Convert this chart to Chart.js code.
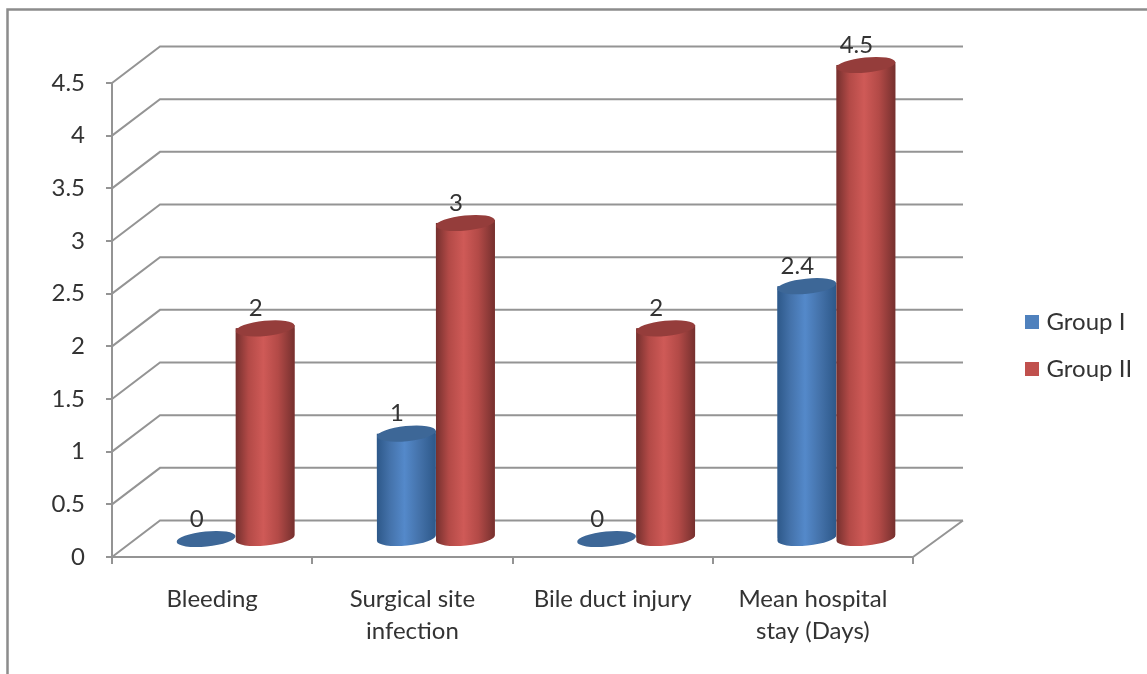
<!DOCTYPE html>
<html>
<head>
<meta charset="utf-8">
<title>Complications by group</title>
<script src="https://cdn.jsdelivr.net/npm/chart.js@4"></script>
<style>
  html, body { margin: 0; padding: 0; background: #fff; }
  canvas { display: block; }
</style>
</head>
<body>
<canvas id="chart" width="1147" height="674"></canvas>
<script>
const categories = [["Bleeding"], ["Surgical site", "infection"], ["Bile duct injury"], ["Mean hospital", "stay (Days)"]];
const groupOne = [0, 1, 0, 2.4];
const groupTwo = [2, 3, 2, 4.5];
const seriesNames = ["Group I", "Group II"];
const seriesColors = ["#4f81bd", "#c0504d"];

const fontName = "Lato, sans-serif";
const textColor = "#333333";
const lineColor = "#949494";

// 3D look: back wall offset and cylinder offset from the front plane
const wallDx = 48, wallEndDx = 50, wallDy = -36.5;
const barDx = 23.5, barDy = -18;
const ellipseTilt = -0.1, ellipseRy = 7.6;

const shades = [
    { edge: "#2d5889", mid: "#4472aa", peak: "#5489ca", cap: "#3d6797" },
    { edge: "#75302e", mid: "#b34a47", peak: "#cf5a57", cap: "#953d3b" }
];

function sideGradient(ctx, bar, s) {
    let g = ctx.createLinearGradient(bar.x - bar.width / 2, 0, bar.x + bar.width / 2, 0);
    g.addColorStop(0, s.edge);
    g.addColorStop(0.22, s.mid);
    g.addColorStop(0.47, s.peak);
    g.addColorStop(0.72, s.mid);
    g.addColorStop(1, s.edge);
    return g;
}

function sidePath(ctx, bar, rx) {
    // lower half of the base ellipse, then straight up to the top ellipse
    ctx.beginPath();
    ctx.ellipse(bar.x, bar.base, rx, ellipseRy, ellipseTilt, 0, Math.PI);
    ctx.lineTo(bar.x - rx, bar.y);
    ctx.lineTo(bar.x + rx, bar.y - 3);
    ctx.closePath();
}

const chart3d = {
    id: "chart3d",
    beforeDraw(chart) {
        let ctx = chart.ctx;
        ctx.save();
        ctx.strokeStyle = "#8c8c8c";
        ctx.lineWidth = 2.5;
        ctx.beginPath();
        ctx.moveTo(7.5, 674);
        ctx.lineTo(7.5, 9.5);
        ctx.lineTo(1147, 9.5);
        ctx.stroke();
        ctx.restore();
    },
    afterLayout(chart) {
        // put the legend box where the reference has it, keeping its size
        let legend = chart.legend;
        let pad = legend.options.labels.padding;
        legend.left = 1029.5 - pad;
        legend.top = 310 - pad;
        legend.right = 1147;
        legend.bottom = 674;
    },
    beforeDatasetDraw() {
        return false; // bars get painted below so that Group II lands on top
    },
    beforeDatasetsDraw(chart) {
        let ctx = chart.ctx;
        let area = chart.chartArea;
        let yScale = chart.scales.y;

        ctx.save();
        ctx.strokeStyle = lineColor;
        ctx.lineWidth = 2;
        ctx.beginPath();
        yScale.ticks.forEach(function (t) {
            let y = yScale.getPixelForValue(t.value);
            ctx.moveTo(area.left, y);
            ctx.lineTo(area.left + wallDx, y + wallDy);
            ctx.lineTo(area.right + wallEndDx, y + wallDy);
        });
        let floor = yScale.getPixelForValue(0);
        ctx.moveTo(area.right, floor);
        ctx.lineTo(area.right + wallEndDx, floor + wallDy);
        ctx.stroke();
        ctx.restore();

        ctx.save();
        ctx.translate(barDx, barDy);
        chart.data.datasets.forEach(function (ds, i) {
            let s = shades[i];
            chart.getDatasetMeta(i).data.forEach(function (bar) {
                let rx = bar.width / 2;
                ctx.save();
                sidePath(ctx, bar, rx);
                ctx.clip();
                bar.draw(ctx);
                ctx.restore();
                if (bar.base - bar.y > 1) {
                    sidePath(ctx, bar, rx);
                    ctx.fillStyle = sideGradient(ctx, bar, s);
                    ctx.fill();
                }
                ctx.beginPath();
                ctx.ellipse(bar.x, bar.y, rx, ellipseRy, ellipseTilt, 0, Math.PI * 2);
                ctx.fillStyle = s.cap;
                ctx.fill();
            });
        });
        ctx.restore();
    },
    afterDatasetsDraw(chart) {
        let ctx = chart.ctx;
        ctx.save();
        ctx.font = "24px " + fontName;
        ctx.fillStyle = textColor;
        ctx.textAlign = "center";
        ctx.textBaseline = "middle";
        chart.data.datasets.forEach(function (ds, i) {
            chart.getDatasetMeta(i).data.forEach(function (bar, j) {
                ctx.fillText(String(ds.data[j]), bar.x + barDx - 9.5, bar.y + barDy - 20);
            });
        });
        ctx.restore();
    }
};

new Chart(document.getElementById("chart"), {
    type: "bar",
    data: {
        labels: categories,
        datasets: [
            // the border only thickens the legend box, so its text sits closer
            { label: seriesNames[0], data: groupOne, backgroundColor: seriesColors[0], borderColor: seriesColors[0], borderWidth: 9 },
            { label: seriesNames[1], data: groupTwo, backgroundColor: seriesColors[1], borderColor: seriesColors[1], borderWidth: 9 }
        ]
    },
    options: {
        responsive: false,
        animation: false,
        events: [],
        categoryPercentage: 0.59,
        barPercentage: 1,
        layout: { padding: { top: 83, right: 234, left: 0, bottom: 0 } },
        plugins: {
            tooltip: { enabled: false },
            legend: {
                position: "chartArea",
                align: "start",
                labels: {
                    boxWidth: 5,
                    boxHeight: 5,
                    padding: 23,
                    color: textColor,
                    font: { family: fontName, size: 24 }
                }
            }
        },
        scales: {
            x: {
                afterFit(scale) { scale.height = 117; },
                grid: { drawOnChartArea: false, color: lineColor, lineWidth: 2, tickLength: 7 },
                border: { color: lineColor, width: 2 },
                ticks: {
                    color: textColor,
                    padding: 19,
                    maxRotation: 0,
                    font: { family: fontName, size: 24, lineHeight: 1.33 }
                }
            },
            y: {
                min: 0,
                max: 4.5,
                afterFit(scale) { scale.width = 112; },
                grid: { drawOnChartArea: false, color: lineColor, lineWidth: 2, tickLength: 6 },
                border: { color: lineColor, width: 2 },
                ticks: {
                    stepSize: 0.5,
                    color: textColor,
                    padding: 21,
                    callback: function (v) { return String(v); },
                    font: { family: fontName, size: 24 }
                }
            }
        }
    },
    plugins: [chart3d]
});
</script>
</body>
</html>
